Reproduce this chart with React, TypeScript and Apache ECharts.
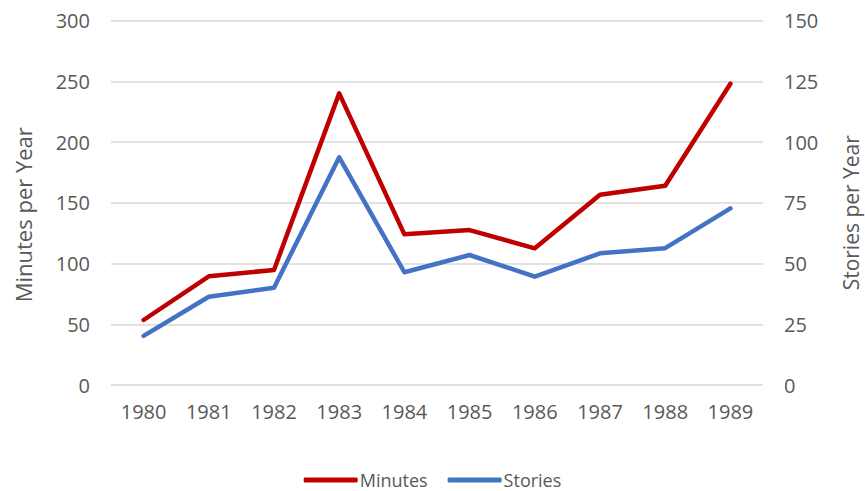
import React, { useEffect, useRef } from "react";
import * as echarts from "echarts";

const years = ["1980", "1981", "1982", "1983", "1984", "1985", "1986", "1987", "1988", "1989"];
const minutes = [53.5, 89.5, 94.7, 240, 124, 127.5, 112.5, 156.5, 164, 248];
const stories = [20.2, 36.3, 40, 93.7, 46.4, 53.5, 44.6, 54.2, 56.3, 72.7];

const FONT = "'Open Sans', sans-serif";
const TXT = "#595959";

export default function App() {
  const ref = useRef<HTMLDivElement>(null);
  useEffect(() => {
    if (!ref.current) return;
    const chart = echarts.init(ref.current, undefined, { renderer: "svg" });
    chart.setOption({
      animation: false,
      backgroundColor: "#ffffff",
      textStyle: { fontFamily: FONT, color: TXT },
      grid: {
        left: 111,
        right: 102,
        top: 20.5,
        bottom: 106,
        containLabel: false,
        outerBoundsMode: "none",
      },
      legend: {
        top: 466,
        left: "center",
        icon: "roundRect",
        itemWidth: 54,
        itemHeight: 5,
        itemGap: 20,
        textStyle: {
          fontFamily: FONT,
          fontSize: 18,
          lineHeight: 16,
          color: TXT,
          padding: [0, 0, 0, -3],
        },
        data: ["Minutes", "Stories"],
      },
      xAxis: {
        type: "category",
        data: years,
        boundaryGap: true,
        axisLine: { show: false },
        axisTick: { show: false },
        axisLabel: { color: TXT, fontSize: 20, fontFamily: FONT, margin: 16 },
      },
      yAxis: [
        {
          type: "value",
          min: 0,
          max: 300,
          interval: 50,
          name: "Minutes per Year",
          nameLocation: "middle",
          nameGap: 77,
          nameTextStyle: {
            color: TXT,
            fontSize: 22,
            lineHeight: 22,
            fontFamily: FONT,
            padding: [0, 24, 0, 0],
          },
          axisLine: { show: false },
          axisTick: { show: false },
          axisLabel: { color: TXT, fontSize: 20, fontFamily: FONT, margin: 21 },
          splitLine: { lineStyle: { color: "#d9d9d9", width: 1.5 } },
        },
        {
          type: "value",
          min: 0,
          max: 150,
          interval: 25,
          name: "Stories per Year",
          nameLocation: "middle",
          nameGap: 77,
          nameRotate: 90,
          nameTextStyle: {
            color: TXT,
            fontSize: 21,
            lineHeight: 21,
            fontFamily: FONT,
            padding: [0, 20, 0, 0],
          },
          axisLine: { show: false },
          axisTick: { show: false },
          axisLabel: { color: TXT, fontSize: 20, fontFamily: FONT, margin: 21 },
          splitLine: { show: false },
        },
      ],
      series: [
        {
          name: "Minutes",
          type: "line",
          yAxisIndex: 0,
          data: minutes,
          symbol: "none",
          color: "#C00000",
          lineStyle: { color: "#C00000", width: 4.5, cap: "round", join: "round" },
        },
        {
          name: "Stories",
          type: "line",
          yAxisIndex: 1,
          data: stories,
          symbol: "none",
          color: "#4472C4",
          lineStyle: { color: "#4472C4", width: 4.5, cap: "round", join: "round" },
        },
      ],
    });
    return () => chart.dispose();
  }, []);
  return (
    <div
      ref={ref}
      style={{ position: "fixed", left: 0, top: 0, width: 865, height: 491 }}
    />
  );
}
